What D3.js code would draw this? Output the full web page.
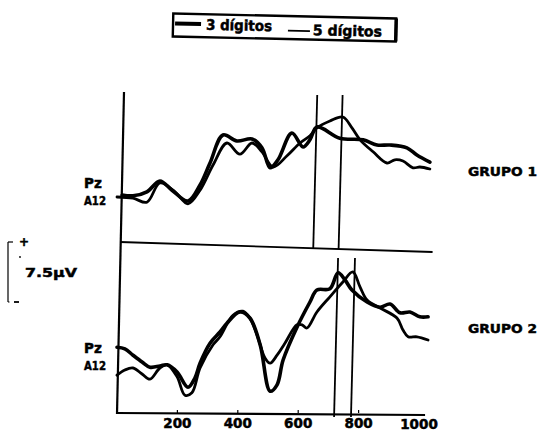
<!DOCTYPE html>
<html>
<head>
<meta charset="utf-8">
<script src="https://cdn.jsdelivr.net/npm/d3@7"></script>
<style>
  body { margin: 0; background: #fff; }
  svg { display: block; }
  text { font-family: "DejaVu Sans", sans-serif; font-weight: bold; fill: #000; stroke: #000; stroke-width: 0.5; }
</style>
</head>
<body>
<svg id="chart" width="540" height="437"></svg>
<script>
// series + panel names
const series = ['3 dígitos', '5 dígitos'];
const groups = ['GRUPO 1', 'GRUPO 2'];
const xTicks = [200, 400, 600, 800, 1000];
const calib = 7.5; // µV

// [ms, µV]
const g1_3dig = [
  [17, 0], [53, -0.1], [99, 0.4], [142, 1.75], [182, 0.6], [235, -0.75], [275, 1.25],
  [308, 4], [351, 7.5], [397, 6.75], [447, 7], [480, 5.9], [507, 3.4], [533, 4.4],
  [579, 7.75], [616, 6], [639, 6.9], [662, 8.5], [738, 7.1], [815, 6.9], [861, 6.25],
  [904, 6.25], [960, 5.9], [993, 5], [1036, 4.1]
];
const g1_5dig = [
  [0, -0.25], [53, -0.4], [99, -0.9], [142, 1.5], [192, 0.4], [235, -1.1], [275, 0.6],
  [318, 3.75], [364, 6.5], [407, 5.1], [447, 6.5], [480, 5.4], [517, 3.5], [563, 4.9],
  [606, 6.5], [639, 7.4], [662, 8.4], [705, 9.25], [748, 9.75], [778, 8.4], [805, 6.9],
  [848, 5.4], [894, 4], [920, 4.4], [947, 4.25], [980, 3.4], [1003, 3.5], [1036, 3.25]
];
const g2_3dig = [
  [0, 1.6], [26, 1.4], [53, 0.6], [83, -0.25], [109, -0.9], [142, -0.75], [166, -0.6],
  [199, -1.5], [235, -3.4], [258, -2.25], [275, -0.4], [308, 2.1], [341, 3.5], [364, 4.6],
  [407, 6], [440, 5.25], [474, 1.9], [507, -3.9], [530, -3.1], [550, 0], [596, 4.1],
  [639, 7.25], [662, 8.75], [705, 8.9], [732, 10.9], [755, 10], [778, 8.75], [828, 7.25],
  [871, 6.6], [904, 7], [937, 5.9], [970, 6], [1003, 5.4], [1030, 5.4]
];
const g2_5dig = [
  [0, -1.9], [26, -1.25], [53, -1], [83, -1.75], [109, -2.4], [142, -1], [166, -0.6],
  [199, -2.1], [225, -4.4], [248, -4.1], [275, -1], [318, 1.9], [341, 2.9], [384, 5.6],
  [417, 6.1], [440, 5.25], [464, 3.1], [490, 0.25], [507, -0.4], [530, 0.6], [556, 2.1],
  [596, 4.4], [613, 4.4], [629, 4], [662, 6], [705, 7.9], [748, 9.75], [781, 11],
  [805, 9.1], [828, 7.5], [871, 6.5], [927, 5.25], [947, 3.75], [964, 2.9], [993, 2.9],
  [1030, 2.5]
];
// latency markers (ms)
const g1_markers = [663, 747];
const g2_markers = [732, 788];

const svg = d3.select('#chart');

const x = d3.scaleLinear().domain([0, 1000]).range([117, 419]);
const yTop = d3.scaleLinear().domain([0, 10]).range([195, 115]);
const yBot = d3.scaleLinear().domain([0, 10]).range([360, 280]);

const widths = [3.6, 2.8];

const panels = [
  { name: groups[0], y: yTop, data: [g1_3dig, g1_5dig], markers: g1_markers, mTop: 95, mBot: 249, labelY: 171 },
  { name: groups[1], y: yBot, data: [g2_3dig, g2_5dig], markers: g2_markers, mTop: 258, mBot: 417, labelY: 328 },
];

// frame: left axis, separator, bottom axis (scan is a bit skewed)
const frame = svg.append('g').attr('stroke', '#000').attr('fill', 'none');
frame.append('line').attr('x1', x(0) + 7).attr('y1', 92).attr('x2', x(0)).attr('y2', 414).attr('stroke-width', 2.2);
frame.append('line').attr('x1', x(0) + 3).attr('y1', 242).attr('x2', x(1045)).attr('y2', 252).attr('stroke-width', 1.8);
frame.append('line').attr('x1', x(0)).attr('y1', 413).attr('x2', x(1020)).attr('y2', 415).attr('stroke-width', 2.2);

// ticks + labels
const axis = svg.append('g');
axis.selectAll('line')
  .data(xTicks.filter(d => d < 1000))
  .join('line')
  .attr('x1', d => x(d)).attr('x2', d => x(d))
  .attr('y1', 410).attr('y2', 413)
  .attr('stroke', '#000').attr('stroke-width', 1.2);
axis.selectAll('text')
  .data(xTicks)
  .join('text')
  .attr('x', d => x(d))
  .attr('y', d => 428 + (d === 1000 ? 1 : 0))
  .attr('text-anchor', 'middle')
  .attr('font-size', 13.5)
  .text(d => d);

panels.forEach((p) => {
  const g = svg.append('g');
  const line = d3.line()
    .x(d => x(d[0]))
    .y(d => p.y(d[1]))
    .curve(d3.curveCatmullRom.alpha(0.5));

  g.selectAll('path.wave')
    .data(p.data)
    .join('path')
    .attr('class', 'wave')
    .attr('d', line)
    .attr('fill', 'none')
    .attr('stroke', '#000')
    .attr('stroke-linejoin', 'round')
    .attr('stroke-linecap', 'round')
    .attr('stroke-width', (d, i) => widths[i]);

  // latency markers, slightly leaning like the scan
  g.selectAll('line.marker')
    .data(p.markers)
    .join('line')
    .attr('class', 'marker')
    .attr('x1', d => x(d)).attr('y1', p.mTop)
    .attr('x2', d => x(d) - 4).attr('y2', p.mBot)
    .attr('stroke', '#000').attr('stroke-width', 1.8);

  // electrode labels
  const ly = p.y(0);
  g.append('text').attr('x', 84).attr('y', ly - 7).attr('font-size', 13.5).text('Pz');
  g.append('text').attr('x', 84).attr('y', ly + 10).attr('font-size', 13)
    .attr('textLength', 22).attr('lengthAdjust', 'spacingAndGlyphs').text('A12');

  g.append('text').attr('x', 468).attr('y', p.labelY + 5).attr('font-size', 13)
    .attr('textLength', 69).attr('lengthAdjust', 'spacingAndGlyphs').text(p.name);
});

// calibration bar
const calTop = 242;
const calBot = calTop + (yBot(0) - yBot(calib));
const cal = svg.append('g').attr('stroke', '#000').attr('fill', 'none').attr('stroke-width', 1.2);
cal.append('line').attr('x1', 8).attr('y1', calTop).attr('x2', 8).attr('y2', calBot);
cal.append('line').attr('x1', 8).attr('y1', calTop).attr('x2', 13).attr('y2', calTop);
cal.append('line').attr('x1', 8).attr('y1', calBot).attr('x2', 11).attr('y2', calBot).attr('stroke-dasharray', '1.5,1.5');
cal.append('line').attr('x1', 14).attr('y1', calBot).attr('x2', 19).attr('y2', calBot).attr('stroke-width', 1.8);
svg.append('circle').attr('cx', 20).attr('cy', 257).attr('r', 0.9).attr('fill', '#000');
svg.append('text').attr('x', 24).attr('y', calTop + 4).attr('font-size', 12).attr('text-anchor', 'middle').text('+');
svg.append('text').attr('x', 25).attr('y', 277)
  .attr('font-family', '"DejaVu Sans Mono", monospace')
  .attr('font-size', 13)
  .attr('textLength', 52).attr('lengthAdjust', 'spacingAndGlyphs')
  .text(`${calib}µV`);

// legend box (tilted like the scan)
const lg = svg.append('g').attr('transform', 'rotate(1.3, 284, 27.5)');
lg.append('rect')
  .attr('x', 173).attr('y', 16).attr('width', 223).attr('height', 23)
  .attr('fill', '#fff').attr('stroke', '#000').attr('stroke-width', 2.4);
lg.append('line').attr('x1', 396).attr('y1', 16).attr('x2', 396).attr('y2', 39)
  .attr('stroke', '#000').attr('stroke-width', 3.5);
const legendItems = [
  { x1: 175, x2: 201, ly: 26, tx: 206, ty: 31.5, tw: 66 },
  { x1: 288, x2: 310, ly: 30.5, tx: 313, ty: 34.5, tw: 69 },
];
legendItems.forEach((it, i) => {
  lg.append('line').attr('x1', it.x1).attr('x2', it.x2).attr('y1', it.ly).attr('y2', it.ly)
    .attr('stroke', '#000').attr('stroke-width', i === 0 ? 4 : 1.8);
  lg.append('text').attr('x', it.tx).attr('y', it.ty).attr('font-size', 14.5)
    .attr('textLength', it.tw).attr('lengthAdjust', 'spacingAndGlyphs')
    .text(series[i]);
});
</script>
</body>
</html>
